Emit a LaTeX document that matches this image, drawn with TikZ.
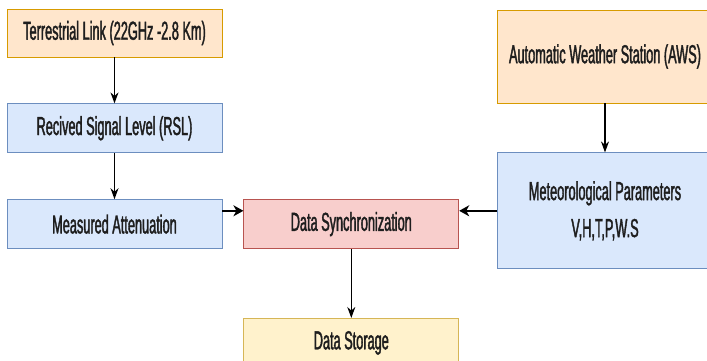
\documentclass[tikz,border=0pt]{standalone}
\usepackage{fontspec}
\setmainfont{Liberation Sans}[FakeStretch=0.49,FakeBold=1.5]
\usetikzlibrary{positioning,arrows.meta}

\definecolor{orangeFill}{HTML}{FFE6CC}
\definecolor{orangeLine}{HTML}{D79B00}
\definecolor{blueFill}{HTML}{DAE8FC}
\definecolor{blueLine}{HTML}{6C8EBF}
\definecolor{redFill}{HTML}{F8CECC}
\definecolor{redLine}{HTML}{B85450}
\definecolor{yellowFill}{HTML}{FFF2CC}
\definecolor{yellowLine}{HTML}{D6B656}
\definecolor{textGray}{HTML}{1E1E1E}

\tikzstyle{boxNode} = [rectangle, minimum width=215pt, minimum height=49pt, text centered, line width=0.8pt, text=textGray, font=\fontsize{26}{37}\selectfont]
\tikzstyle{orangeNode} = [boxNode, draw=orangeLine, fill=orangeFill]
\tikzstyle{blueNode} = [boxNode, draw=blueLine, fill=blueFill]
\tikzstyle{redNode} = [boxNode, draw=redLine, fill=redFill]
\tikzstyle{yellowNode} = [boxNode, draw=yellowLine, fill=yellowFill]
\tikzstyle{arrow} = [line width=1.2pt, -{Stealth[length=11pt,width=8pt]}]
\tikzstyle{harrow} = [line width=1.8pt, -{Stealth[length=10pt,width=11pt,inset=3pt]}]

\begin{document}
\begin{tikzpicture}
    \useasboundingbox (0pt,0pt) rectangle (707pt,-361pt);
    \clip (0pt,0pt) rectangle (707pt,-361pt);

    \node (terrestrial)[orangeNode, minimum height=48pt] at (114.5pt,-33pt) {Terrestrial Link (22GHz -2.8 Km)};
    \node (rsl)[blueNode, below=46pt of terrestrial] {Recived Signal Level (RSL)};
    \node (attenuation)[blueNode, below=46pt of rsl] {Measured Attenuation};
    \node (sync)[redNode, right=21pt of attenuation] {Data Synchronization};
    \node (storage)[yellowNode, below=69pt of sync] {Data Storage};
    \node (aws)[orangeNode, minimum height=93pt] at (605pt,-56.5pt) {Automatic Weather Station (AWS)};
    \node (met)[blueNode, minimum height=116pt, below=49pt of aws, align=center] {Meteorological Parameters\\V,H,T,P,W.S};

    \draw [arrow] (terrestrial) -- (rsl);
    \draw [arrow] (rsl) -- (attenuation);
    \draw [harrow] (attenuation.east |- met.west) -- (sync.west |- met.west);
    \draw [harrow] (met.west) -- (sync.east |- met.west);
    \draw [arrow] (sync) -- (storage);
    \draw [arrow] (aws) -- (met);

\end{tikzpicture}
\end{document}
